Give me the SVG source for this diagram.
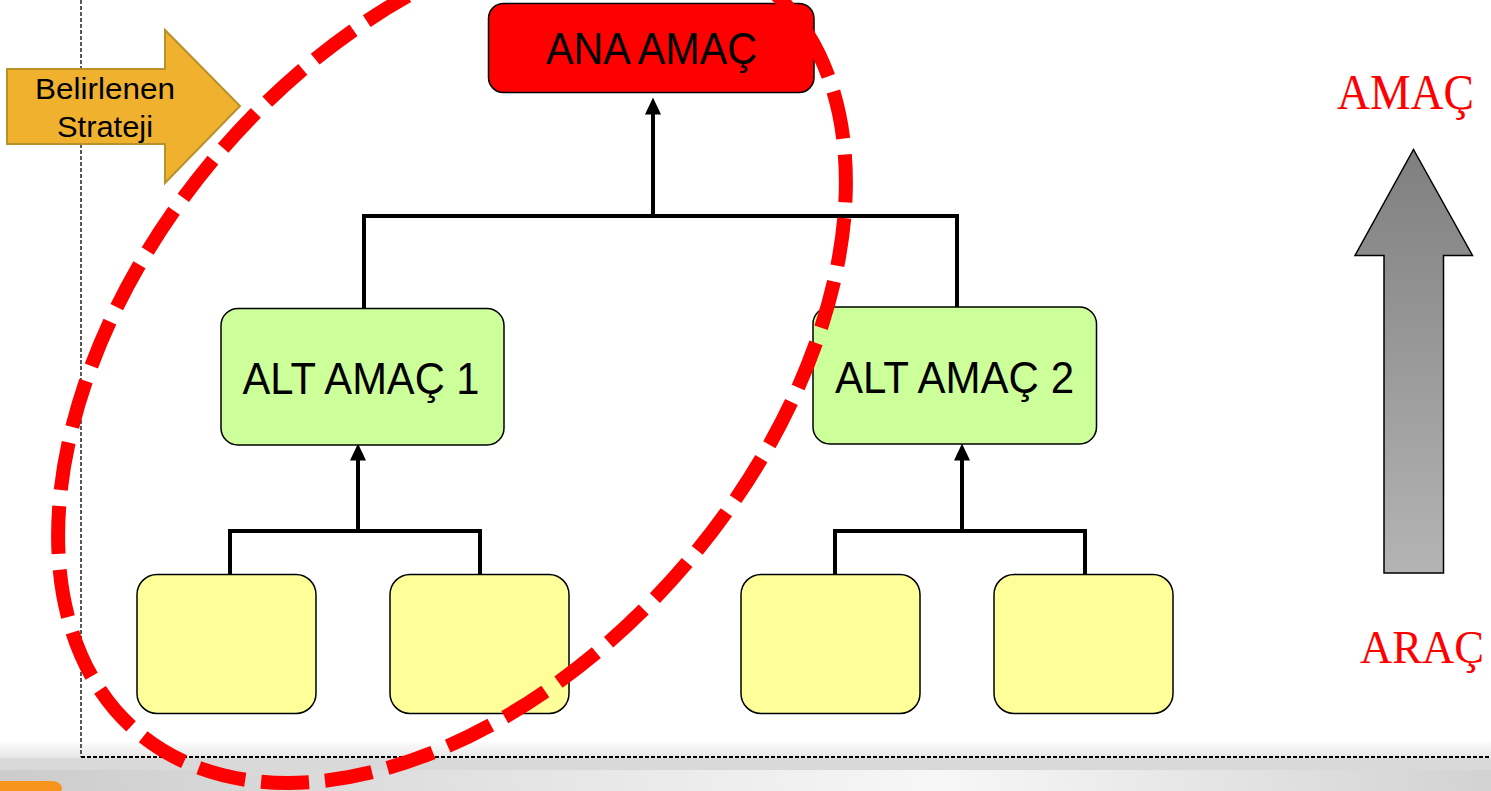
<svg xmlns="http://www.w3.org/2000/svg" width="1491" height="791" viewBox="0 0 1491 791">
<style>
.box{stroke:#000;stroke-width:1.5}
.lbl{font-family:"Liberation Sans",Arial,sans-serif;fill:#000;text-anchor:middle}
.side{font-family:"Liberation Serif","Times New Roman",serif;fill:#ff0000;font-size:50px}
.conn{fill:none;stroke:#000;stroke-width:4}
.frame{fill:none;stroke:#000;stroke-width:1.3;stroke-dasharray:4 2}
</style>
<defs>
<marker id="ah" markerUnits="userSpaceOnUse" markerWidth="18" markerHeight="16" viewBox="0 0 18 16" refX="0.5" refY="8" orient="auto">
<path d="M0,0 L17,8 L0,16 Z" fill="#000"/>
</marker>
<linearGradient id="gArrow" x1="0" y1="0" x2="0" y2="1">
<stop offset="0" stop-color="#7f7f7f"/>
<stop offset="1" stop-color="#b4b4b4"/>
</linearGradient>
<linearGradient id="gFade" x1="0" y1="0" x2="0" y2="1">
<stop offset="0" stop-color="#ffffff"/>
<stop offset="1" stop-color="#e6e6e6"/>
</linearGradient>
<linearGradient id="gBand" x1="0" y1="0" x2="1" y2="0">
<stop offset="0" stop-color="#cccccc"/>
<stop offset="0.63" stop-color="#f7f7f7"/>
<stop offset="1" stop-color="#d2d2d2"/>
</linearGradient>
</defs>
<rect width="1491" height="791" fill="#ffffff"/>
<g id="footer">
<rect x="0" y="740" width="1491" height="18" fill="url(#gFade)"/>
<rect x="0" y="758" width="1491" height="12" fill="#d9d9d9"/>
<rect x="0" y="770" width="1491" height="21" fill="url(#gBand)"/>
<rect x="0" y="781" width="62" height="14" rx="10" fill="#f7941d"/>
<rect x="0" y="781" width="20" height="10" fill="#f7941d"/>
</g>
<g id="frame">
<line class="frame" x1="81" y1="0" x2="81" y2="757"/>
<line class="frame" x1="81" y1="757" x2="1491" y2="757" style="stroke-width:2"/>
</g>
<g id="connectors">
<polyline class="conn" points="364,308 364,216 957,216 957,307"/>
<line class="conn" x1="653" y1="216" x2="653" y2="114" marker-end="url(#ah)"/>
<polyline class="conn" points="230,575 230,531 480,531 480,575"/>
<line class="conn" x1="358" y1="531" x2="358" y2="460" marker-end="url(#ah)"/>
<polyline class="conn" points="835,575 835,531 1085,531 1085,575"/>
<line class="conn" x1="962" y1="531" x2="962" y2="460" marker-end="url(#ah)"/>
</g>
<g id="strateji">
<polygon points="7,69 165,69 165,30 240,106 165,183 165,144 7,144" fill="#f0b12f" stroke="#b8912a" stroke-width="2"/>
<text class="lbl" x="105" y="99" font-size="30" textLength="140" lengthAdjust="spacingAndGlyphs">Belirlenen</text>
<text class="lbl" x="105" y="137" font-size="30" textLength="96" lengthAdjust="spacingAndGlyphs">Strateji</text>
</g>
<g id="ana-amac">
<rect class="box" x="488.5" y="3.5" width="325.5" height="89" rx="15" fill="#ff0000"/>
<text class="lbl" x="651.5" y="64" font-size="44" textLength="211" lengthAdjust="spacingAndGlyphs">ANA AMAÇ</text>
</g>
<g id="alt-amac-1">
<rect class="box" x="221" y="308.5" width="283" height="136.5" rx="17" fill="#ccff99"/>
<text class="lbl" x="361" y="394" font-size="44" textLength="237" lengthAdjust="spacingAndGlyphs">ALT AMAÇ 1</text>
</g>
<g id="alt-amac-2">
<rect class="box" x="813" y="307" width="283.5" height="137" rx="17" fill="#ccff99"/>
<text class="lbl" x="954.5" y="393" font-size="44" textLength="239" lengthAdjust="spacingAndGlyphs">ALT AMAÇ 2</text>
</g>
<g id="leaf-1"><rect class="box" x="137" y="574.5" width="179" height="139" rx="20" fill="#ffff99"/></g>
<g id="leaf-2"><rect class="box" x="390" y="574.5" width="179" height="139" rx="20" fill="#ffff99"/></g>
<g id="leaf-3"><rect class="box" x="741" y="574.5" width="179" height="139" rx="20" fill="#ffff99"/></g>
<g id="leaf-4"><rect class="box" x="994" y="574.5" width="179" height="139" rx="20" fill="#ffff99"/></g>
<g id="scale-arrow">
<polygon points="1413.5,149.5 1472.5,255.5 1443.5,255.5 1443.5,573 1384,573 1384,255.5 1355,255.5" fill="url(#gArrow)" stroke="#000" stroke-width="1.5"/>
<text class="side" x="1337" y="109" textLength="137" lengthAdjust="spacingAndGlyphs">AMAÇ</text>
<text class="side" x="1360" y="663" font-size="46" textLength="124" lengthAdjust="spacingAndGlyphs" style="font-size:46px">ARAÇ</text>
</g>
<g id="focus-ellipse">
<ellipse cx="0" cy="0" rx="488" ry="311" transform="translate(452 359) rotate(-50)" fill="none" stroke="#ff0000" stroke-width="14" stroke-dasharray="48 16"/>
</g>
</svg>
